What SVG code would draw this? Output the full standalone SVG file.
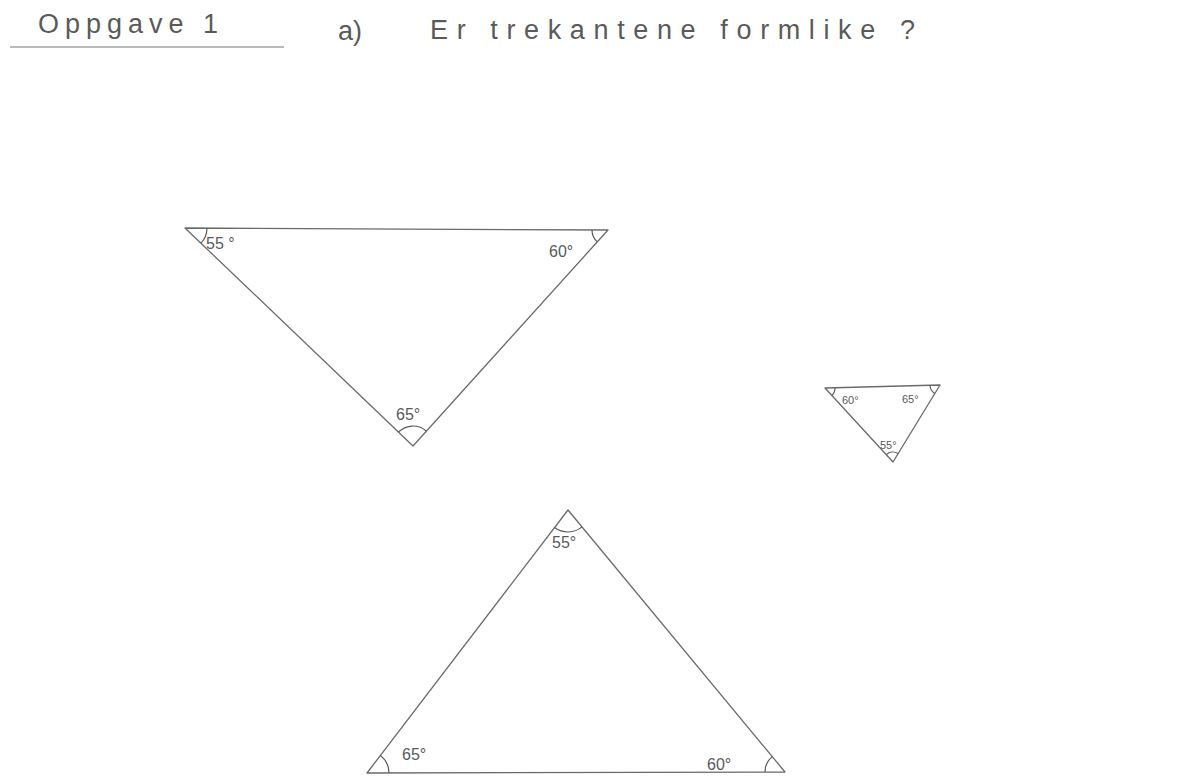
<svg xmlns="http://www.w3.org/2000/svg" width="1190" height="783" viewBox="0 0 1190 783">
<style>
.edge{fill:none;stroke:#6a6a6a;stroke-width:1.3;stroke-linejoin:round}
.arc{fill:none;stroke:#5a5a5a;stroke-width:1.2}
.hdr{font-family:"Liberation Sans",Arial,sans-serif;fill:#5a5a5a;font-size:27px}
.lbl{font-family:"Liberation Sans",Arial,sans-serif;fill:#5a5a5a;font-size:16px}
.sml{font-family:"Liberation Sans",Arial,sans-serif;fill:#5a5a5a;font-size:11px}
</style>
<rect width="1190" height="783" fill="#ffffff"/>
<g id="header">
<text class="hdr" x="38" y="33" textLength="180" lengthAdjust="spacing">Oppgave 1</text>
<line x1="10" y1="47" x2="284" y2="47" stroke="#777" stroke-width="1.2"/>
<text class="hdr" x="338" y="40">a)</text>
<text class="hdr" x="430" y="39" textLength="485" lengthAdjust="spacing">Er trekantene formlike ?</text>
</g>
<g id="triangle1">
<polygon class="edge" points="185,228 608,230 413,446"/>
<path class="arc" d="M207,228.2 A22,22 0 0 1 200.9,243.2"/>
<path class="arc" d="M597.3,241.9 A16,16 0 0 1 592,230"/>
<path class="arc" d="M398.5,432.2 A20,20 0 0 1 426.4,431.2"/>
<text class="lbl" x="206" y="249">55 °</text>
<text class="lbl" x="549" y="257">60°</text>
<text class="lbl" x="396" y="420">65°</text>
</g>
<g id="triangle2">
<polygon class="edge" points="825,388 940,385 893,462"/>
<path class="arc" d="M835,387.7 A10,10 0 0 1 831.8,395.4"/>
<path class="arc" d="M934.8,393.5 A10,10 0 0 1 930,385.3"/>
<path class="arc" d="M886.2,454.6 A10,10 0 0 1 898.2,453.5"/>
<text class="sml" x="842" y="404">60°</text>
<text class="sml" x="902" y="403">65°</text>
<text class="sml" x="880" y="449">55°</text>
</g>
<g id="triangle3">
<polygon class="edge" points="568,510 367,773 785,772"/>
<path class="arc" d="M582,526.9 A22,22 0 0 1 554.6,527.5"/>
<path class="arc" d="M380.4,755.5 A22,22 0 0 1 389,773"/>
<path class="arc" d="M765,772 A20,20 0 0 1 772.2,756.6"/>
<text class="lbl" x="552" y="548">55°</text>
<text class="lbl" x="402" y="760">65°</text>
<text class="lbl" x="707" y="770">60°</text>
</g>
</svg>
